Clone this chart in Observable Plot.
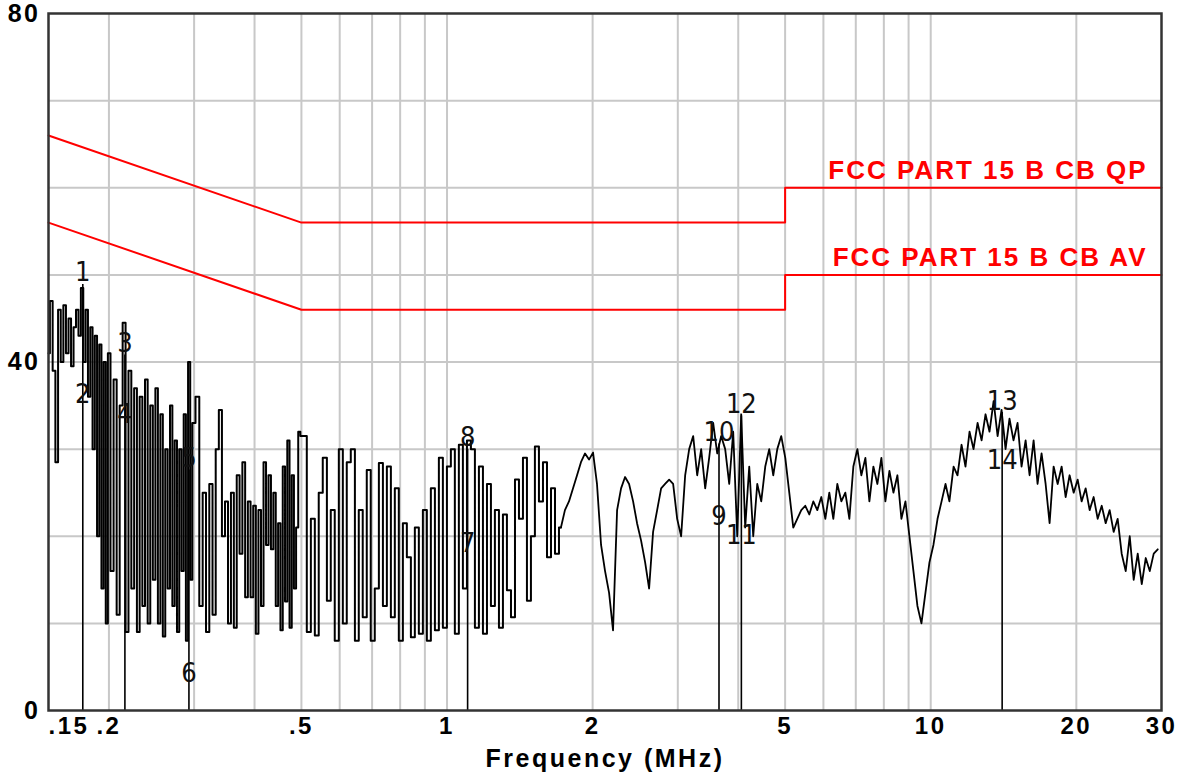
<!DOCTYPE html>
<html>
<head>
<meta charset="utf-8">
<script src="https://cdn.jsdelivr.net/npm/d3@7"></script>
<script src="https://cdn.jsdelivr.net/npm/@observablehq/plot@0.6"></script>
<style>
  body { margin: 0; background: #fff; }
  #chart svg { display: block; }
  g[aria-description="spaced"] text { letter-spacing: 2.5px; }
  g[aria-description="limit-labels"] text { letter-spacing: 2px; }
</style>
</head>
<body>
<div id="chart"></div>
<script>
// ---- measured spectrum (frequency in MHz, level in dB) ----
const freqMHz = [
  0.150,0.152,0.154,0.156,0.158,0.160,0.162,0.164,0.166,0.168,0.170,0.172,0.174,0.176,0.178,0.180,0.182,0.184,0.186,0.188,0.190,0.192,0.194,0.196,0.198,0.200,
  0.203,0.206,0.209,0.212,0.215,0.218,0.221,0.224,0.227,0.230,0.233,0.236,0.239,0.242,0.245,0.248,0.251,0.254,0.257,0.260,0.263,0.266,0.269,0.272,0.275,0.278,0.281,0.284,0.287,0.290,0.293,0.296,0.299,
  0.305,0.310,0.315,0.320,0.325,0.330,0.335,0.340,0.345,0.350,0.355,0.360,0.365,0.370,0.375,0.380,0.385,0.390,0.395,0.400,0.405,0.410,0.415,0.420,0.425,0.430,0.435,0.440,0.445,0.450,0.455,0.460,0.465,0.470,0.475,0.480,0.485,0.490,0.495,0.500,
  0.508,0.518,0.528,0.538,0.548,0.559,0.570,0.580,0.592,0.603,0.615,0.626,0.639,0.651,0.663,0.676,0.689,0.702,0.716,0.730,0.744,0.758,0.773,0.787,0.803,0.818,0.834,0.850,0.866,0.883,0.900,0.917,0.935,0.953,0.971,0.990,1.009,1.028,1.048,1.068,1.089,1.110,1.131,1.153,1.175,1.198,1.221,1.244,1.268,1.293,1.317,1.343,1.369,1.395,1.422,1.449,1.477,1.505,1.534,1.564,1.594,1.625,1.656,1.688,1.720,
  1.753,1.787,1.822,1.857,1.892,1.929,1.966,2.004,2.042,2.082,2.122,2.163,2.204,2.247,2.290,2.334,2.379,2.425,2.471,2.519,2.568,2.617,2.667,2.719,2.771,2.824,2.879,2.934,2.991,3.048,3.107,3.167,3.228,3.290,3.353,3.418,3.483,3.550,3.619,3.688,3.759,3.832,3.905,3.981,4.057,4.135,4.215,4.296,4.379,4.463,4.549,4.636,4.726,4.817,4.909,
  5.004,5.100,5.198,5.298,5.400,5.504,5.610,5.718,5.828,5.941,6.055,6.171,6.290,6.411,6.535,6.660,6.789,6.919,7.053,7.188,7.327,7.468,7.611,7.758,7.907,8.059,8.215,8.373,8.534,8.698,8.866,9.036,9.210,9.387,9.568,9.752,9.940,10.13,10.33,10.53,10.73,10.93,11.15,11.36,11.58,11.80,12.03,12.26,12.50,12.74,12.98,13.23,13.49,
  13.75,14.01,14.28,14.55,14.83,15.12,15.41,15.71,16.01,16.32,16.63,16.95,17.28,17.61,17.95,18.30,18.65,19.01,19.37,19.75,20.13,20.51,20.91,21.31,21.72,22.14,22.57,23.00,23.44,23.89,24.35,24.82,25.30,25.79,26.28,26.79,27.31,27.83,28.37,28.91,29.47
];
const levelDb = [
  41,47,39,28.5,46,40,46.5,41,45,39.5,44,46,43,48.5,40,46,36,44,30,43,20,42,14,40,10,41,
  16,38,11,35,44.5,9,39,14,37,9,36,12,38,10,35,15,37,10,34,8.5,30,14,35,12,31,9,30,16,34,8,40,15,33,
  36,12,25,9,26,11,30,34.5,20,24,10,25,9.5,27,18,28.5,13,24,13,23.5,8.8,23,12,28.5,19,27,18.5,25,12,21.5,9.2,28,12.5,31,9.5,27,14,21,32,31.5,
  31.5,9,22,8.6,25,29,12.6,23,8,30,10,28.5,30,8,23,10.7,27.6,8,14,28.4,12,28,10.7,25.5,8,21.5,17.6,8.4,21,8.8,23,8,25.5,9.2,29,9.5,28,30,8.8,30.5,14,31,30,9.5,28,8.8,26,12,23,9.5,22.5,13.8,10.7,26.5,22,29,12.6,20,30.3,24,28.5,17.6,25.5,18,21,
  23,24,25.5,27,28.5,29.5,28.8,29.6,26,19,16,13.5,9.2,23,25.5,26.8,26,24,21.5,19.5,17,14,20.5,23,25.5,26,26.5,26,22,20,27,30,31.5,27,30,25.5,29,33,29.5,31.5,30,26,32,20,34,21,28,20,26,24,28,30,27,30,31.5,
  29,25,21,22,23,23.5,22.5,24,23,24.5,22,25,22,26,24,25,22,28,30,27,29,24,28,26,29,24,27.5,25,27,22,24,20,16,12,10,13.5,17,19,22,24,26,24,28,27,30.5,28,32,30,33,31,34,32,35.5,
  31.5,34.5,30,33.5,31,33,28,31,27,31,26,29.5,26,21.5,28,26,28,24.5,27,25,26.5,24,25.5,23,24.5,22,23.5,21.5,23,20.5,22,18,16,20,15,18,14.5,17.5,16,18,18.5
];

// ---- markers ----
const markerIds   = [1, 2, 3, 4, 5, 6, 7, 8, 9, 10, 11, 12, 13, 14];
const markerFreq  = [0.1766, 0.1766, 0.2158, 0.2158, 0.2927, 0.2927, 1.103, 1.103, 3.65, 3.65, 4.06, 4.06, 14.05, 14.05];
const markerLevel = [48.9, 34.9, 40.8, 32.6, 27.6, 2.9, 17.9, 30.0, 21.0, 30.6, 18.8, 33.8, 34.2, 27.4];

// ---- limit lines ----
const limitFreq = [0.15, 0.5, 5, 5, 30];
const qpLimit   = [66, 56, 56, 60, 60];
const avLimit   = [56, 46, 46, 50, 50];
const limitNames = ["FCC PART 15 B CB QP", "FCC PART 15 B CB AV"];

// ---- axes ----
const xTicks = [0.15, 0.2, 0.5, 1, 2, 5, 10, 20, 30];
const xTickLabels = [".15", ".2", ".5", "1", "2", "5", "10", "20", "30"];
const yTicks = [0, 40, 80];
const xGrid = [0.2, 0.3, 0.4, 0.5, 0.6, 0.7, 0.8, 0.9, 1, 2, 3, 4, 5, 6, 7, 8, 9, 10, 20];
const yGrid = [10, 20, 30, 40, 50, 60, 70];
const xTitle = "Frequency (MHz)";
const stepBelowMHz = 1.75; // dense low band drawn as steps, upper band as a polyline

// ---- build tables ----
const trace = freqMHz.map((f, i) => ({f, v: levelDb[i]}));
const traceLow = trace.filter(d => d.f <= stepBelowMHz);
const traceHigh = trace.filter(d => d.f >= 1.72);
const markers = markerIds.map((id, i) => ({id, f: markerFreq[i], v: markerLevel[i]}));
const markerRules = d3.groups(markers, d => d.f).map(([f, g]) => ({f, top: d3.max(g, d => d.v)}));
const rows = arr => limitFreq.map((f, i) => ({f, v: arr[i]}));
const limitLabels = [
  {f: limitFreq[limitFreq.length - 1], v: qpLimit[qpLimit.length - 1], name: limitNames[0]},
  {f: limitFreq[limitFreq.length - 1], v: avLimit[avLimit.length - 1], name: limitNames[1]}
];
const xTickData = xTicks.map((v, i) => ({v, label: xTickLabels[i]}));

const boldFont = "'Liberation Sans', Arial, Helvetica, sans-serif";
const narrowFont = "'DejaVu Sans Condensed', 'Liberation Sans Narrow', 'Liberation Sans', sans-serif";

const chart = Plot.plot({
  width: 1193,
  height: 784,
  marginLeft: 48,
  marginRight: 32,
  marginTop: 13,
  marginBottom: 74,
  x: {type: "log", domain: [0.15, 30], axis: null},
  y: {domain: [0, 80], axis: null},
  style: {background: "#fff", fontFamily: boldFont},
  marks: [
    Plot.ruleX(xGrid, {stroke: "#c8c8c8", strokeWidth: 2}),
    Plot.ruleY(yGrid, {stroke: "#c8c8c8", strokeWidth: 2}),
    Plot.line(rows(qpLimit), {x: "f", y: "v", stroke: "#ff0000", strokeWidth: 2}),
    Plot.line(rows(avLimit), {x: "f", y: "v", stroke: "#ff0000", strokeWidth: 2}),
    Plot.line(traceLow, {x: "f", y: "v", curve: "step", stroke: "#000", strokeWidth: 2}),
    Plot.line(traceHigh, {x: "f", y: "v", curve: "linear", stroke: "#000", strokeWidth: 1.8}),
    Plot.ruleX(markerRules, {x: "f", y1: 0, y2: "top", stroke: "#000", strokeWidth: 1.6}),
    Plot.text(markers, {x: "f", y: "v", text: d => String(d.id), lineAnchor: "bottom", dy: -3,
      fontSize: 27, fontFamily: narrowFont, fill: "#111", ariaDescription: "marker-labels"}),
    Plot.frame({stroke: "#333", strokeWidth: 2.5}),
    Plot.text(limitLabels, {x: "f", y: "v", text: "name", textAnchor: "end", lineAnchor: "bottom",
      dx: -14, dy: -9, fontSize: 26, fontWeight: "bold", fill: "#ff0000", ariaDescription: "limit-labels"}),
    Plot.text(xTickData.slice(1), {x: "v", text: "label", frameAnchor: "bottom", dy: 23,
      fontSize: 24, fontWeight: "bold", fill: "#000", ariaDescription: "spaced"}),
    Plot.text(xTickData.slice(0, 1), {x: "v", text: "label", frameAnchor: "bottom", dy: 23, textAnchor: "start",
      fontSize: 24, fontWeight: "bold", fill: "#000", ariaDescription: "spaced"}),
    Plot.text(yTicks, {y: d => d, text: d => String(d), frameAnchor: "left", textAnchor: "end", dx: -8,
      fontSize: 25, fontWeight: "bold", fill: "#000", ariaDescription: "spaced"}),
    Plot.text([xTitle], {text: d => d, frameAnchor: "bottom", dy: 56,
      fontSize: 25, fontWeight: "bold", fill: "#000", ariaDescription: "spaced"})
  ]
});
document.getElementById("chart").appendChild(chart);
</script>
</body>
</html>
